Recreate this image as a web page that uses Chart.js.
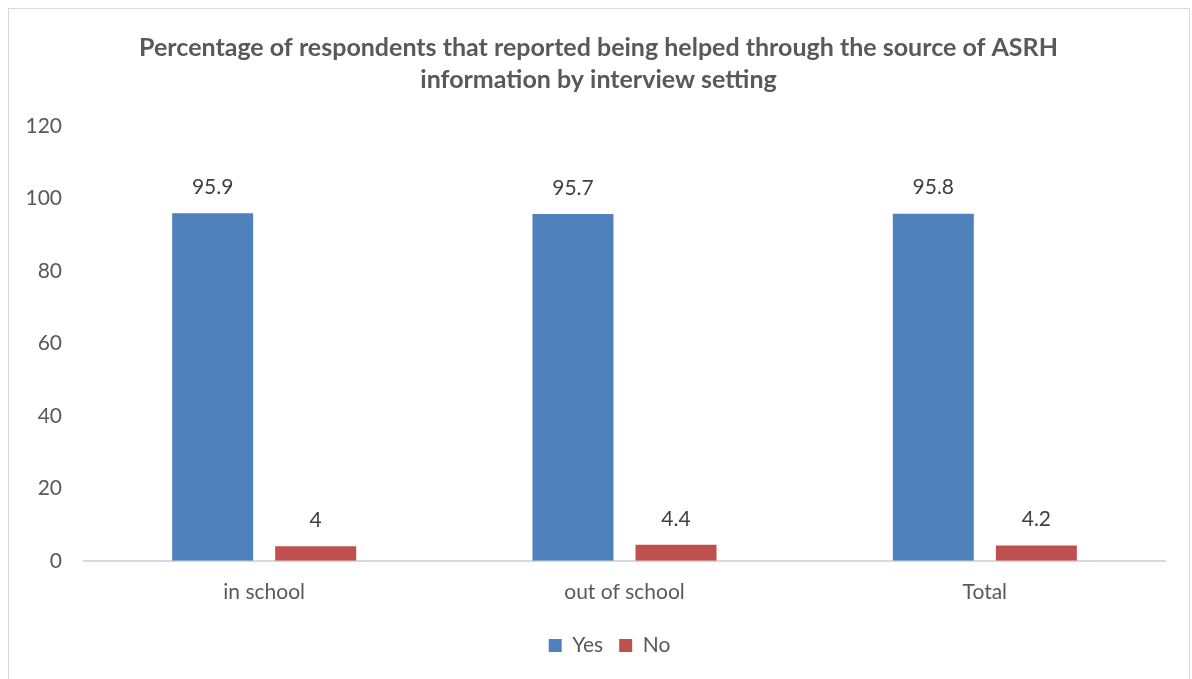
<!DOCTYPE html>
<html>
<head>
<meta charset="utf-8">
<script src="https://cdn.jsdelivr.net/npm/chart.js@4.4.1/dist/chart.umd.min.js"></script>
<style>
  html, body { margin: 0; padding: 0; background: #fff; }
  #wrap { position: relative; width: 1192px; height: 679px; overflow: hidden; }
  #frame { position: absolute; left: 8px; top: 8px; width: 1182px; height: 700px; border: 1px solid #d9d9d9; box-sizing: border-box; }
  #chart { position: absolute; left: 0; top: 0; }
</style>
</head>
<body>
<div id="wrap">
  <div id="frame"></div>
  <canvas id="chart" width="1192" height="679"></canvas>
</div>
<script>
// ===== Data =====
const categories = ['in school', 'out of school', 'Total']
const yesValues = [95.9, 95.7, 95.8]
const noValues = [4, 4.4, 4.2]
const titleLines = ['Percentage of respondents that reported being helped through the source of ASRH', 'information by interview setting']

const FONT = 'Lato, "Open Sans", sans-serif'

// draws the value above each bar
const valueLabels = {
  id: 'valueLabels',
  afterDatasetsDraw(chart) {
    const ctx = chart.ctx
    ctx.save()
    ctx.font = '21px ' + FONT
    ctx.fillStyle = '#404040'
    ctx.textAlign = 'center'
    ctx.textBaseline = 'middle'
    chart.data.datasets.forEach((ds, i) => {
      chart.getDatasetMeta(i).data.forEach((bar, j) => {
        ctx.fillText(String(ds.data[j]), bar.x, bar.y - 26)
      })
    })
    ctx.restore()
  }
}

// title and legend sit a bit right of the plot centre in the original
const blockShift = {
  id: 'blockShift',
  afterLayout(chart) {
    chart.titleBlock.left += 11
    chart.titleBlock.right += 11
    chart.legend.left += 22
    chart.legend.right += 22
  }
}

new Chart(document.getElementById('chart'), {
  type: 'bar',
  data: {
    labels: categories,
    datasets: [
      { label: 'Yes', data: yesValues, backgroundColor: '#4f81bd', categoryPercentage: 0.572, barPercentage: 0.786 },
      { label: 'No', data: noValues, backgroundColor: '#c0504d', categoryPercentage: 0.572, barPercentage: 0.786 }
    ]
  },
  options: {
    responsive: false,
    animation: false,
    layout: { padding: { left: 10, right: 27, top: 24, bottom: 13 } },
    plugins: {
      title: {
        display: true,
        text: titleLines,
        color: '#595959',
        font: { family: FONT, size: 25, weight: 'bold', lineHeight: 1.28 },
        padding: { top: 8, bottom: 30 }
      },
      legend: {
        position: 'bottom',
        labels: {
          color: '#595959',
          font: { family: FONT, size: 21 },
          boxWidth: 13,
          boxHeight: 13,
          usePointStyle: true,
          pointStyle: 'rect',
          padding: 16
        }
      },
      tooltip: { enabled: false }
    },
    scales: {
      x: {
        afterFit: (s) => { s.height -= 5 },
        grid: { display: false, drawTicks: false },
        border: { display: true, color: '#d9d9d9', width: 2 },
        ticks: { color: '#595959', font: { family: FONT, size: 21 }, padding: 19 }
      },
      y: {
        min: 0,
        max: 120,
        afterFit: (s) => { s.width = 74 },
        grid: { display: false, drawTicks: false },
        border: { display: false },
        ticks: { stepSize: 20, color: '#595959', font: { family: FONT, size: 21 }, padding: 22 }
      }
    }
  },
  plugins: [valueLabels, blockShift]
})
</script>
</body>
</html>
